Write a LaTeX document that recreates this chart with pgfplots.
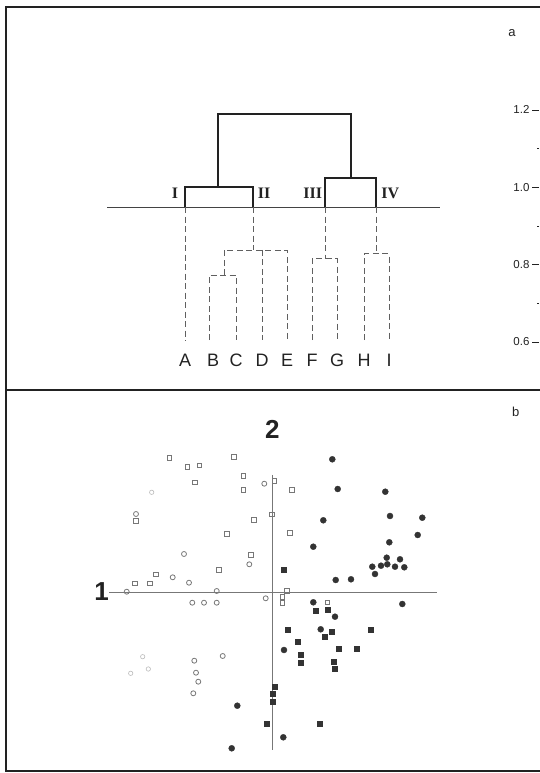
\documentclass[border=0pt]{standalone}
\usepackage{fontspec}
\setmainfont{Liberation Sans}
\newfontfamily\romanfont{Liberation Serif}
\usepackage{pgfplots}
\pgfplotsset{compat=1.18}
\definecolor{ink}{HTML}{222222}
\definecolor{dashc}{HTML}{606060}
\definecolor{openc}{HTML}{777777}
\definecolor{fillc}{HTML}{333333}
\begin{document}
\begin{tikzpicture}
\useasboundingbox (0pt,0pt) rectangle (539pt,773pt);
% ---------------- panel a : dendrogram ----------------
\begin{axis}[
  at={(6pt,383pt)}, anchor=south west,
  scale only axis, width=539pt, height=383pt,
  xmin=6, xmax=545, ymin=0.4759, ymax=1.4663,
  axis line style={ink, line width=1.1pt},
  xtick=\empty, ytick=\empty, clip=false,
  dend/.style={dashc, line width=0.9pt, dash pattern=on 6pt off 3.5pt},
  solid dend/.style={ink, line width=1.7pt},
]
\addplot[ink!85, line width=0.9pt] coordinates {(107,0.949) (440,0.949)};
\addplot[solid dend] coordinates {(185,0.949) (185,1.0) (253,1.0) (253,0.949)};
\addplot[solid dend] coordinates {(325,0.949) (325,1.024) (376,1.024) (376,0.949)};
\addplot[solid dend] coordinates {(218,1.0) (218,1.19) (351,1.19) (351,1.024)};
\addplot[dend] coordinates {(185,0.949) (185,0.605)};
\addplot[dend] coordinates {(253,0.949) (253,0.838)};
\addplot[dend] coordinates {(224,0.773) (224,0.838) (287,0.838) (287,0.605)};
\addplot[dend] coordinates {(209,0.605) (209,0.773) (236,0.773) (236,0.605)};
\addplot[dend] coordinates {(262,0.838) (262,0.605)};
\addplot[dend] coordinates {(325,0.949) (325,0.815)};
\addplot[dend] coordinates {(312,0.605) (312,0.815) (337,0.815) (337,0.605)};
\addplot[dend] coordinates {(376,0.949) (376,0.828)};
\addplot[dend] coordinates {(364,0.605) (364,0.828) (389,0.828) (389,0.605)};
\addplot[draw=none, mark=none, nodes near coords, point meta=explicit symbolic,
  every node near coord/.style={anchor=center, inner sep=0pt, text=ink,
  font=\fontsize{18}{18}\selectfont}]
  table[meta=lab] {
x y lab
185 0.5535 A
213 0.5535 B
236 0.5535 C
262 0.5535 D
287 0.5535 E
312 0.5535 F
337 0.5535 G
364 0.5535 H
389 0.5535 I
};
\addplot[draw=none, mark=none, nodes near coords, point meta=explicit symbolic,
  every node near coord/.style={anchor=center, inner sep=0pt, text=ink,
  font=\romanfont\bfseries\fontsize{16}{16}\selectfont}]
  table[meta=lab] {
x y lab
175 0.985 I
264 0.985 II
312.7 0.985 III
390.3 0.985 IV
};
\node[font=\fontsize{13}{13}\selectfont, text=ink] at (axis cs:512,1.399) {a};
\end{axis}
% y scale of panel a
\begin{axis}[
  at={(6pt,383pt)}, anchor=south west,
  scale only axis, width=533pt, height=383pt,
  xmin=0, xmax=1, ymin=0.4759, ymax=1.4663,
  hide x axis, axis y line*=right,
  y axis line style={draw=none},
  ytick={0.6,0.8,1.0,1.2}, minor ytick={0.7,0.9,1.1},
  tick align=inside, major tick length=7pt, minor tick length=2pt,
  every tick/.style={ink, line width=0.8pt},
  /pgf/number format/assume math mode=true,
  yticklabel={\pgfmathprintnumber[fixed,fixed zerofill,precision=1]{\tick}},
  yticklabel style={anchor=east, xshift=-6pt, text=ink, font=\fontsize{11.5}{12}\selectfont},
]
\addplot[draw=none] coordinates {(0,0.6)};
\end{axis}
% ---------------- panel b : ordination ----------------
\begin{axis}[
  at={(6pt,2pt)}, anchor=south west,
  scale only axis, width=539pt, height=381pt,
  xmin=-26.6, xmax=27.3, ymin=-17.9, ymax=20.2,
  axis line style={ink, line width=1.1pt},
  xtick=\empty, ytick=\empty, clip=false,
]
\addplot[openc, line width=0.9pt] coordinates {(-16.3,0) (16.5,0)};
\addplot[openc, line width=0.9pt] coordinates {(0,11.7) (0,-15.8)};
% open squares
\addplot[only marks, mark=square, mark size=2.3pt, mark options={draw=openc, line width=0.8pt}] coordinates {
(-10.27,13.43) (-8.47,12.53) (-7.27,12.67) (-3.8,13.5) (-7.7,10.97) (-2.87,11.6) (-2.87,10.2)
(0.23,11.1) (1.97,10.2) (-13.6,7.1) (-1.8,7.2) (-0.03,7.77) (-4.53,5.8) (1.8,5.93) (-2.1,3.7)
(-5.3,2.2) (-11.6,1.77) (-13.7,0.87) (-12.2,0.87) (1.47,0.1) (1.03,-0.47) (1.03,-1.07) (5.53,-1.03)
};
% open circles
\addplot[only marks, mark=o, mark size=2.5pt, mark options={draw=openc, line width=0.8pt}] coordinates {
(-0.77,10.83) (-13.6,7.8) (-8.8,3.8) (-2.27,2.77) (-9.93,1.47) (-8.3,0.93) (-14.53,0.03)
(-5.53,0.1) (-7.97,-1.07) (-6.8,-1.07) (-5.53,-1.07) (-0.63,-0.63) (-4.93,-6.4) (-7.77,-6.87)
(-7.6,-8.07) (-7.37,-8.97) (-7.87,-10.13)
};
% faint open circles
\addplot[only marks, mark=o, mark size=2.2pt, mark options={draw=openc!50, line width=0.6pt}] coordinates {
(-12.93,-6.47) (-12.37,-7.7) (-14.13,-8.13) (-12.03,9.97)
};
% filled circles
\addplot[only marks, mark=*, mark size=3pt, mark options={draw=fillc, fill=fillc}] coordinates {
(6.03,13.27) (6.57,10.30) (11.33,10.03) (5.13,7.17) (11.8,7.6) (15.03,7.43) (14.57,5.7)
(11.73,4.97) (4.13,4.53) (11.47,3.43) (10.03,2.53) (10.9,2.63) (11.53,2.77) (12.3,2.53)
(12.8,3.27) (13.23,2.47) (10.3,1.8) (6.37,1.2) (7.9,1.27) (13.03,-1.2) (4.13,-1.03)
(6.3,-2.47) (4.87,-3.73) (1.2,-5.8) (-3.47,-11.37) (-4.03,-15.63) (1.13,-14.53)
};
% filled squares
\addplot[only marks, mark=square*, mark size=2.5pt, mark options={draw=fillc, fill=fillc}] coordinates {
(1.13,2.2) (4.4,-1.87) (5.53,-1.8) (1.53,-3.73) (5.3,-4.47) (5.97,-3.97) (9.9,-3.73)
(2.57,-4.97) (2.9,-6.23) (6.63,-5.63) (8.47,-5.7) (2.9,-7.07) (6.2,-6.97) (6.3,-7.63)
(0.3,-9.47) (0.03,-10.13) (0.03,-10.97) (-0.53,-13.13) (4.8,-13.13)
};
\node[font=\bfseries\fontsize{26}{26}\selectfont, text=ink] at (axis cs:0.03,16.23) {2};
\node[font=\bfseries\fontsize{26}{26}\selectfont, text=ink] at (axis cs:-17.03,0) {1};
\node[font=\fontsize{13}{13}\selectfont, text=ink] at (axis cs:24.37,18.03) {b};
\end{axis}
\end{tikzpicture}
\end{document}
